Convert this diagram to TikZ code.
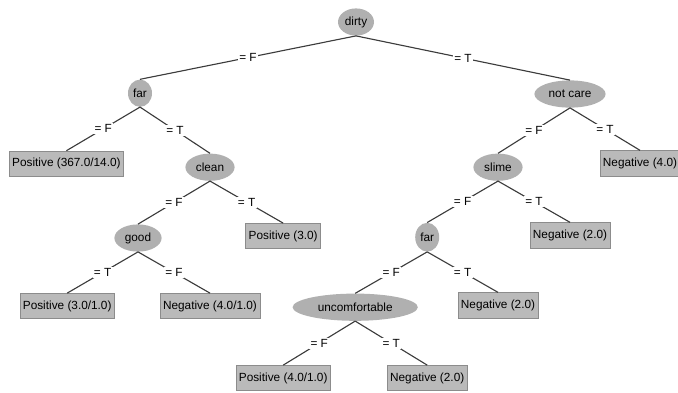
\documentclass[tikz,border=0pt]{standalone}
\usepackage{fontspec}
\setmainfont{Liberation Sans}
\usetikzlibrary{shapes.geometric}
\definecolor{splitgray}{RGB}{176,176,176}
\definecolor{leafgray}{RGB}{186,186,186}
\definecolor{leafline}{RGB}{140,140,140}
\definecolor{edgegray}{RGB}{60,60,60}
\begin{document}
\begin{tikzpicture}[
	split/.style={ellipse, fill=splitgray, inner sep=1pt, minimum height=0.68cm, font=\fontsize{8.4pt}{10pt}\selectfont},
	leaf/.style={rectangle, draw=leafline, fill=leafgray, inner xsep=2.2pt, minimum height=0.63cm, font=\fontsize{8.4pt}{10pt}\selectfont},
	edge/.style={draw=edgegray, line width=0.8pt},
	lbl/.style={fill=white, inner sep=1pt, font=\fontsize{8.4pt}{10pt}\selectfont}
]
	\useasboundingbox (0,0) rectangle (16.95,-9.8);

	\node[split, minimum width=0.9cm] (dirty) at (8.9,-0.55) {dirty};
	\node[split, minimum width=0.6cm] (far1) at (3.5,-2.33) {far};
	\node[split, minimum width=1.78cm] (notcare) at (14.25,-2.35) {not care};

	\node[leaf] (pos1) at (1.66,-4.09) {Positive (367.0/14.0)};
	\node[split, minimum width=1.23cm] (clean) at (5.25,-4.18) {clean};
	\node[split, minimum width=1.23cm] (slime) at (12.45,-4.18) {slime};
	\node[leaf] (neg1) at (16.0,-4.08) {Negative (4.0)};

	\node[split, minimum width=1.18cm] (good) at (3.45,-5.95) {good};
	\node[leaf] (pos2) at (7.08,-5.9) {Positive (3.0)};
	\node[split, minimum width=0.6cm, minimum height=0.72cm] (far2) at (10.68,-5.93) {far};
	\node[leaf] (neg2) at (14.25,-5.88) {Negative (2.0)};

	\node[leaf] (pos3) at (1.68,-7.65) {Positive (3.0/1.0)};
	\node[leaf] (neg3) at (5.25,-7.65) {Negative (4.0/1.0)};
	\node[split, minimum width=3.13cm] (uncomf) at (8.88,-7.68) {uncomfortable};
	\node[leaf] (neg4) at (12.45,-7.63) {Negative (2.0)};

	\node[leaf] (pos4) at (7.08,-9.45) {Positive (4.0/1.0)};
	\node[leaf] (neg5) at (10.68,-9.45) {Negative (2.0)};

	\draw[edge] (dirty.south) to node[lbl] {= F} (far1.north);
	\draw[edge] (dirty.south) to node[lbl] {= T} (notcare.north);

	\draw[edge] (far1.south) to node[lbl] {= F} (pos1.north);
	\draw[edge] (far1.south) to node[lbl] {= T} (clean.north);

	\draw[edge] (notcare.south) to node[lbl] {= F} (slime.north);
	\draw[edge] (notcare.south) to node[lbl] {= T} (neg1.north);

	\draw[edge] (clean.south) to node[lbl] {= F} (good.north);
	\draw[edge] (clean.south) to node[lbl] {= T} (pos2.north);

	\draw[edge] (slime.south) to node[lbl] {= F} (far2.north);
	\draw[edge] (slime.south) to node[lbl] {= T} (neg2.north);

	\draw[edge] (good.south) to node[lbl] {= T} (pos3.north);
	\draw[edge] (good.south) to node[lbl] {= F} (neg3.north);

	\draw[edge] (far2.south) to node[lbl] {= F} (uncomf.north);
	\draw[edge] (far2.south) to node[lbl] {= T} (neg4.north);

	\draw[edge] (uncomf.south) to node[lbl] {= F} (pos4.north);
	\draw[edge] (uncomf.south) to node[lbl] {= T} (neg5.north);
\end{tikzpicture}
\end{document}
